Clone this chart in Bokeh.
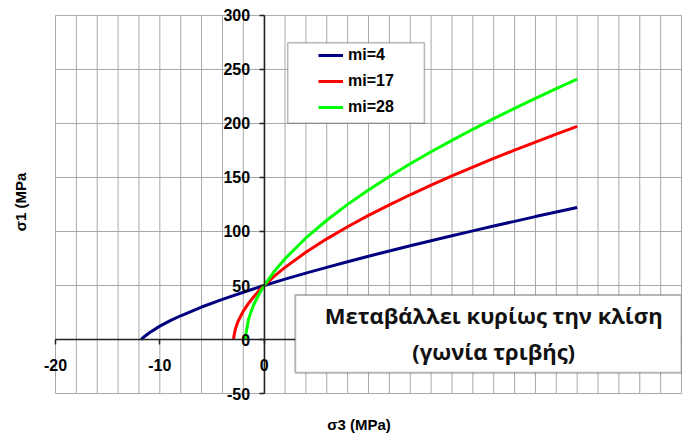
from bokeh.plotting import figure
from bokeh.models import (Range1d, LinearAxis, FixedTicker, BoxAnnotation, Label,
                          Legend, LegendItem)
from bokeh.embed import file_html
from bokeh.resources import INLINE

# ---- data ----
mi4_s3 = [-11.8, -11.5, -11, -10, -9, -8, -6, -4, -2, 0, 2, 4, 6, 8, 10, 12, 14, 16, 18, 20, 22, 24, 26, 28, 30]
mi4_s1 = [0, 2.6, 6.3, 12.4, 17.5, 22.0, 30.1, 37.2, 43.8, 50.0, 55.9, 61.5, 66.8, 72.0, 77.1, 82.0, 86.8,
          91.5, 96.1, 100.6, 105.1, 109.4, 113.8, 118.0, 122.2]

mi17_s3 = [-2.93, -2.9, -2.75, -2.5, -2, -1.5, -1, -0.5, 0, 1, 2, 4, 6, 8, 10, 12, 14, 16, 18, 20, 22, 24, 26, 28, 30]
mi17_s1 = [0, 3.0, 10.0, 16.9, 26.3, 33.5, 39.6, 45.1, 50.0, 58.9, 66.8, 80.8, 93.2, 104.4, 114.9, 124.7,
           134.0, 142.9, 151.4, 159.6, 167.6, 175.3, 182.8, 190.2, 197.3]

mi28_s3 = [-1.785, -1.75, -1.5, -1.25, -1, -0.5, 0, 1, 2, 4, 6, 8, 10, 12, 14, 16, 18, 20, 22, 24, 26, 28, 30]
mi28_s1 = [0, 5.3, 18.5, 26.1, 32.2, 41.9, 50.0, 63.5, 74.8, 94.0, 110.4, 125.1, 138.5, 150.9, 162.7, 173.8,
           184.4, 194.6, 204.5, 214.0, 223.2, 232.2, 241.0]

series_labels = ["mi=4", "mi=17", "mi=28"]
series_colors = ["#000080", "#ff0000", "#00ff00"]

x_tick_labels = [-20, -10, 0]
y_tick_labels = [-50, 0, 50, 100, 150, 200, 250, 300]
x_grid = list(range(-20, 41, 2))
X_MIN, X_MAX, Y_MIN, Y_MAX = -20, 40, -50, 300

note_line1 = "Μεταβάλλει κυρίως την κλίση"
note_line2 = "(γωνία τριβής)"

FONT = "Liberation Sans"
INK = "#000000"

# the frame is a little larger than the gridded area so that tick labels are not clipped
p = figure(width=682, height=435, output_backend="svg", toolbar_location=None,
           x_range=Range1d(-21.917, 40.096), y_range=Range1d(-59.21, 313.816),
           min_border_left=35, min_border_right=0, min_border_top=0, min_border_bottom=30,
           background_fill_color="white", border_fill_color="white")
p.outline_line_color = None
p.xgrid.visible = False
p.ygrid.visible = False

# grid of the plot area
p.segment(x0=x_grid, y0=[Y_MIN] * len(x_grid), x1=x_grid, y1=[Y_MAX] * len(x_grid),
          line_color="#a8a8a8", line_width=1)
p.segment(x0=[X_MIN] * len(y_tick_labels), y0=y_tick_labels, x1=[X_MAX] * len(y_tick_labels), y1=y_tick_labels,
          line_color="#a8a8a8", line_width=1)

# label-only outer axes
for ax, lab, so in ((p.xaxis[0], "σ3 (MPa)", 12), (p.yaxis[0], "σ1 (MPa", 7)):
    ax.ticker = FixedTicker(ticks=[])
    ax.axis_line_color = None
    ax.major_tick_line_color = None
    ax.minor_tick_line_color = None
    ax.axis_label = lab
    ax.axis_label_text_font = FONT
    ax.axis_label_text_font_size = "15px"
    ax.axis_label_text_font_style = "bold"
    ax.axis_label_text_color = INK
    ax.axis_label_standoff = so

# axis lines + ticks crossing at zero (labels drawn separately)
def style_axis(ax):
    ax.axis_line_color = "#222222"
    ax.axis_line_width = 1.5
    ax.major_tick_line_color = "#222222"
    ax.major_tick_line_width = 1.5
    ax.major_tick_out = 5
    ax.major_tick_in = 0
    ax.minor_tick_line_color = None
    ax.major_label_text_alpha = 0
    ax.major_label_text_font_size = "1px"

xax = LinearAxis(fixed_location=0, bounds=(X_MIN, X_MAX), ticker=FixedTicker(ticks=x_tick_labels))
style_axis(xax)
p.add_layout(xax, "below")
yax = LinearAxis(fixed_location=0, bounds=(Y_MIN, Y_MAX), ticker=FixedTicker(ticks=y_tick_labels))
style_axis(yax)
p.add_layout(yax, "left")

for v in y_tick_labels:
    p.add_layout(Label(x=0, y=v, text=str(v), x_offset=-14, text_align="right", text_baseline="middle",
                       text_font=FONT, text_font_size="16px", text_font_style="bold", text_color=INK))
for v in x_tick_labels:
    p.add_layout(Label(x=v, y=0, text=str(v), y_offset=-19, text_align="center", text_baseline="top",
                       text_font=FONT, text_font_size="16px", text_font_style="bold", text_color=INK))

# curves
renderers = []
for xs, ys, c in ((mi4_s3, mi4_s1, series_colors[0]),
                  (mi17_s3, mi17_s1, series_colors[1]),
                  (mi28_s3, mi28_s1, series_colors[2])):
    renderers.append(p.line(xs, ys, line_color=c, line_width=3))

# legend frame
p.add_layout(BoxAnnotation(left=2.26, right=15.36, bottom=200.2, top=274.8,
                           fill_color="white", fill_alpha=1,
                           line_color="#111111", line_width=1.5))

legend = Legend(items=[LegendItem(label=l, renderers=[r]) for l, r in zip(series_labels, renderers)],
                location=(283, 286), orientation="vertical",
                border_line_color=None, background_fill_alpha=0,
                padding=0, margin=0, spacing=6,
                label_height=20, glyph_height=20, glyph_width=25, label_standoff=5,
                label_text_font=FONT, label_text_font_size="16px", label_text_font_style="bold",
                label_text_color=INK)
p.add_layout(legend)

# note box
p.add_layout(BoxAnnotation(left=2.98, right=X_MAX, bottom=-30.7, top=41.2,
                           fill_color="white", fill_alpha=1,
                           line_color="#111111", line_width=2))
for txt, yv in ((note_line1, 22.3), (note_line2, -10.9)):
    p.add_layout(Label(x=22.0, y=yv, text=txt, text_align="center", text_baseline="middle",
                       text_font="Open Sans", text_font_size="22px", text_font_style="bold",
                       text_color="#111111"))

open("out.html", "w").write(file_html(p, INLINE))
